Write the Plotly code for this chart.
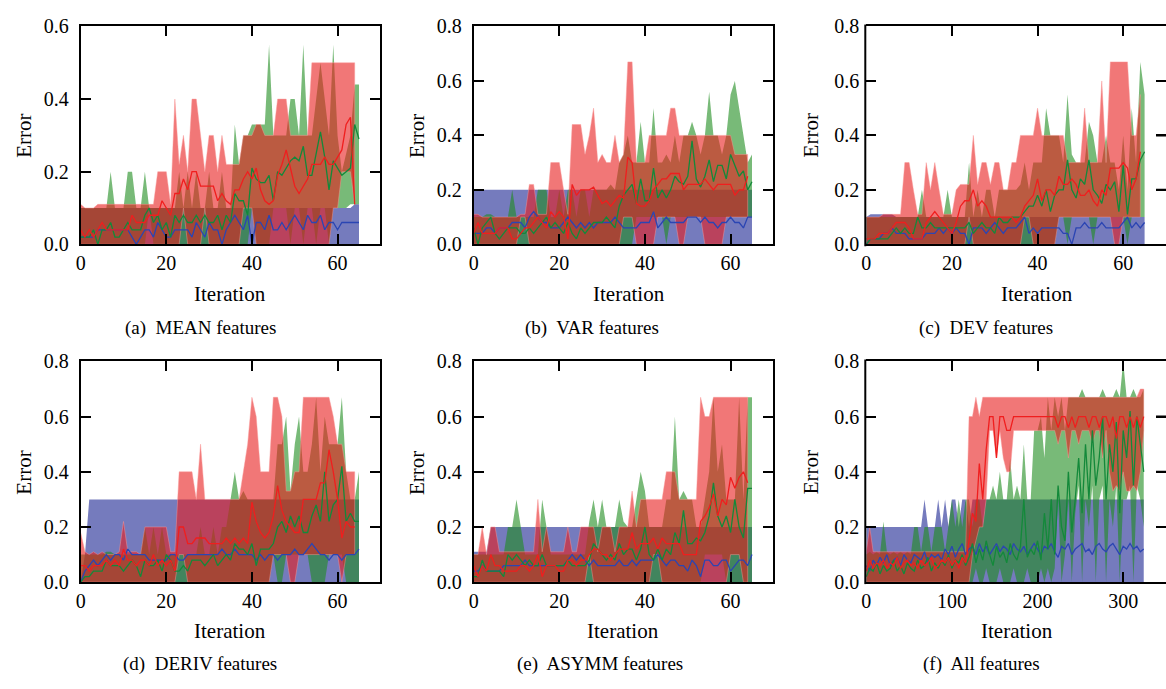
import plotly.graph_objects as go

FONT = "Liberation Serif, Times New Roman, serif"

# ---------------------------------------------------------------------------
# Error curves per feature set: mean line plus lower/upper envelope.
# Panels (a)-(e): one value per iteration; panel (f): one value every 4 iterations.
# ---------------------------------------------------------------------------

# (a) MEAN features
a_blue_mean = [0.02,0.02,0.02,0.02,0.04,0.04,0.04,0.04,0.04,0.04,
               0.04,0.04,0.02,0.0,0.02,0.04,0.04,0.02,0.06,0.04,
               0.02,0.02,0.04,0.04,0.04,0.04,0.02,0.06,0.04,0.02,
               0.06,0.04,0.04,0.0,0.04,0.06,0.08,0.06,0.04,0.08,
               0.0,0.06,0.06,0.04,0.08,0.04,0.04,0.06,0.04,0.06,
               0.08,0.06,0.04,0.08,0.06,0.06,0.08,0.04,0.06,0.06,
               0.04,0.06,0.06,0.06,0.06,0.06]
a_blue_lo = [0,0,0,0,0,0,0,0,0,0, 0,0,0,0,0,0,0,0,0,0, 0,0,0,0,0,0,0,0,0,0,
             0,0,0,0,0,0,0,0,0,0, 0,0,0,0,0,0,0,0,0,0, 0,0,0,0,0,0,0,0,0,0,
             0,0,0,0,0,0]
a_blue_hi = [0.1,0.1,0.1,0.1,0.1,0.1,0.1,0.1,0.1,0.1, 0.1,0.1,0.1,0.1,0.1,0.1,0.1,0.1,0.1,0.1,
             0.1,0.1,0.1,0.1,0.1,0.1,0.1,0.1,0.1,0.1, 0.1,0.1,0.1,0.1,0.1,0.1,0.1,0.1,0.1,0.1,
             0.1,0.1,0.1,0.1,0.1,0.1,0.1,0.1,0.1,0.1, 0.1,0.1,0.1,0.1,0.1,0.1,0.1,0.1,0.1,0.1,
             0.1,0.1,0.1,0.1,0.11,0.11]
a_green_mean = [0.02,0.02,0.02,0.04,0.0,0.04,0.04,0.06,0.02,0.02,
                0.04,0.06,0.04,0.04,0.04,0.08,0.1,0.06,0.08,0.04,
                0.06,0.02,0.08,0.06,0.08,0.06,0.06,0.08,0.06,0.08,
                0.06,0.06,0.08,0.04,0.08,0.06,0.14,0.12,0.12,0.08,
                0.21,0.18,0.17,0.17,0.19,0.12,0.2,0.19,0.21,0.23,
                0.24,0.23,0.27,0.19,0.19,0.25,0.31,0.24,0.15,0.23,
                0.21,0.19,0.2,0.21,0.33,0.29]
a_green_lo = [0,0,0,0,0,0,0,0,0,0, 0,0,0,0,0,0,0.1,0,0,0, 0,0,0,0,0,0,0,0,0,0,
              0,0,0,0,0,0,0,0,0,0, 0.1,0,0,0,0,0.1,0.1,0.1,0.1,0,
              0.1,0.1,0,0.1,0.1,0,0.1,0.1,0,0.1, 0.1,0.1,0.1,0.11,0.11,0.11]
a_green_hi = [0.1,0.1,0.1,0.1,0.1,0.1,0.1,0.2,0.1,0.1,
              0.1,0.2,0.2,0.1,0.1,0.2,0.1,0.1,0.1,0.1,
              0.1,0.1,0.1,0.2,0.1,0.2,0.1,0.2,0.1,0.1,
              0.2,0.1,0.1,0.2,0.1,0.1,0.33,0.22,0.3,0.3,
              0.33,0.33,0.33,0.33,0.55,0.3,0.3,0.3,0.3,0.4,
              0.4,0.3,0.55,0.3,0.3,0.4,0.5,0.4,0.3,0.55,
              0.3,0.2,0.25,0.3,0.44,0.44]
a_red_mean = [0.04,0.02,0.04,0.02,0.04,0.06,0.04,0.04,0.04,0.04,
              0.04,0.04,0.08,0.06,0.06,0.06,0.08,0.08,0.08,0.12,
              0.1,0.08,0.14,0.14,0.18,0.15,0.2,0.2,0.16,0.16,
              0.16,0.16,0.12,0.14,0.12,0.11,0.15,0.15,0.18,0.2,
              0.18,0.21,0.15,0.12,0.11,0.12,0.19,0.22,0.26,0.21,
              0.16,0.14,0.16,0.18,0.22,0.22,0.22,0.24,0.22,0.22,
              0.24,0.26,0.33,0.35,0.11]
a_red_lo = [0,0,0,0,0,0,0,0,0,0, 0,0,0,0,0,0,0,0,0,0, 0,0,0,0,0.1,0,0,0,0,0.1,
            0,0,0,0,0,0,0,0,0.1,0.1, 0.1,0,0,0,0,0,0,0,0,0, 0,0,0,0,0,0,0,0,0,0.1,
            0.1,0.2,0.2,0.2,0.11]
a_red_hi = [0.11,0.1,0.1,0.1,0.11,0.11,0.11,0.11,0.11,0.11,
            0.11,0.11,0.11,0.11,0.11,0.11,0.11,0.11,0.2,0.2,
            0.2,0.11,0.4,0.22,0.3,0.2,0.4,0.4,0.3,0.2,
            0.3,0.3,0.2,0.3,0.22,0.22,0.22,0.22,0.3,0.3,
            0.3,0.33,0.33,0.3,0.3,0.3,0.4,0.4,0.4,0.3,
            0.3,0.3,0.3,0.3,0.5,0.5,0.5,0.5,0.5,0.5,
            0.5,0.5,0.5,0.5,0.5]

# (b) VAR features
b_blue_mean = [0.04,0.04,0.04,0.06,0.06,0.04,0.06,0.06,0.06,0.08,
               0.08,0.08,0.06,0.1,0.12,0.1,0.08,0.08,0.06,0.06,
               0.06,0.08,0.1,0.08,0.06,0.08,0.06,0.08,0.06,0.08,
               0.08,0.08,0.08,0.1,0.08,0.06,0.06,0.06,0.06,0.08,
               0.08,0.08,0.12,0.06,0.08,0.1,0.08,0.08,0.08,0.08,
               0.1,0.1,0.1,0.08,0.1,0.08,0.08,0.06,0.08,0.08,
               0.1,0.08,0.08,0.06,0.1,0.1]
b_blue_lo = [0,0,0,0,0,0,0,0,0,0, 0,0,0,0,0,0,0,0,0,0, 0,0,0,0,0,0,0,0,0,0,
             0,0,0,0,0,0,0,0,0,0, 0,0,0,0,0,0,0,0,0,0, 0,0,0,0,0,0,0,0,0,0,
             0,0,0,0,0,0]
b_blue_hi = [0.2,0.2,0.2,0.2,0.2,0.2,0.2,0.2,0.2,0.2, 0.2,0.2,0.2,0.2,0.2,0.2,0.2,0.2,0.2,0.2,
             0.2,0.2,0.2,0.2,0.2,0.2,0.2,0.2,0.2,0.2, 0.2,0.2,0.2,0.2,0.2,0.2,0.2,0.2,0.2,0.2,
             0.2,0.2,0.2,0.2,0.2,0.2,0.2,0.2,0.2,0.2, 0.2,0.2,0.2,0.2,0.2,0.2,0.2,0.2,0.2,0.2,
             0.2,0.2,0.2,0.2,0.2,0.2]
b_green_mean = [0.06,0.0,0.06,0.08,0.1,0.04,0.02,0.04,0.06,0.06,
                0.06,0.04,0.04,0.06,0.04,0.06,0.08,0.1,0.06,0.08,
                0.06,0.04,0.08,0.04,0.02,0.06,0.04,0.06,0.08,0.08,
                0.08,0.1,0.08,0.06,0.14,0.18,0.2,0.22,0.15,0.24,
                0.16,0.16,0.28,0.17,0.2,0.17,0.2,0.25,0.23,0.22,
                0.25,0.38,0.24,0.21,0.25,0.31,0.23,0.29,0.29,0.24,
                0.33,0.29,0.25,0.27,0.2,0.23]
b_green_lo = [0,0,0,0,0,0,0,0,0,0, 0,0,0,0,0,0,0,0,0,0, 0,0,0,0,0,0,0,0,0,0,
              0,0,0,0,0,0,0,0,0.1,0.1, 0.1,0.1,0.1,0.1,0.1,0,0.1,0.1,0.1,0.1,
              0.1,0.1,0.1,0.1,0.1,0.1,0.1,0.1,0.1,0.1, 0.1,0.1,0.1,0.1,0.1,0.1]
b_green_hi = [0.1,0.1,0.1,0.11,0.11,0.1,0.1,0.1,0.1,0.2,
              0.1,0.1,0.1,0.1,0.1,0.2,0.2,0.2,0.1,0.1,
              0.2,0.1,0.2,0.2,0.1,0.2,0.2,0.1,0.2,0.2,
              0.2,0.2,0.22,0.2,0.3,0.33,0.4,0.3,0.3,0.45,
              0.3,0.3,0.5,0.3,0.3,0.33,0.3,0.4,0.3,0.4,
              0.4,0.45,0.4,0.33,0.4,0.56,0.4,0.4,0.33,0.4,
              0.55,0.6,0.5,0.4,0.3,0.33]
b_red_mean = [0.04,0.08,0.04,0.04,0.04,0.04,0.06,0.06,0.06,0.02,
              0.02,0.04,0.06,0.06,0.08,0.1,0.08,0.06,0.12,0.1,
              0.12,0.1,0.02,0.22,0.18,0.2,0.2,0.2,0.21,0.18,
              0.15,0.16,0.14,0.16,0.18,0.17,0.32,0.3,0.15,0.14,
              0.14,0.16,0.2,0.22,0.24,0.24,0.26,0.26,0.26,0.2,
              0.22,0.22,0.22,0.22,0.24,0.22,0.2,0.22,0.22,0.22,
              0.22,0.18,0.2,0.2,0.25]
b_red_lo = [0,0,0,0,0,0,0,0,0,0, 0,0.1,0.1,0,0,0,0,0,0,0, 0,0,0,0,0,0,0,0,0,0,
            0,0,0,0,0,0.1,0.1,0.1,0,0, 0,0,0,0.1,0.1,0.1,0.1,0.1,0,0,
            0.1,0.1,0.1,0.1,0,0,0,0,0,0.1, 0.1,0.1,0.1,0.1,0.1]
b_red_hi = [0.11,0.11,0.1,0.1,0.1,0.1,0.1,0.1,0.1,0.1,
            0.1,0.11,0.11,0.22,0.22,0.11,0.11,0.11,0.3,0.3,
            0.3,0.2,0.11,0.44,0.44,0.44,0.33,0.4,0.5,0.3,
            0.33,0.3,0.3,0.4,0.3,0.33,0.67,0.67,0.3,0.3,
            0.3,0.4,0.4,0.4,0.4,0.4,0.5,0.5,0.4,0.4,
            0.4,0.4,0.4,0.4,0.4,0.4,0.4,0.4,0.4,0.4,
            0.4,0.33,0.33,0.33,0.33]

# (c) DEV features
c_blue_mean = [0.0,0.02,0.02,0.02,0.04,0.04,0.06,0.04,0.04,0.04,
               0.02,0.02,0.02,0.02,0.04,0.04,0.04,0.06,0.04,0.06,
               0.04,0.06,0.04,0.04,0.0,0.06,0.06,0.06,0.04,0.06,
               0.08,0.06,0.04,0.06,0.06,0.06,0.08,0.1,0.04,0.06,
               0.04,0.06,0.06,0.06,0.06,0.06,0.04,0.04,0.0,0.06,
               0.06,0.08,0.06,0.06,0.06,0.08,0.06,0.06,0.06,0.06,
               0.08,0.1,0.06,0.08,0.06,0.08]
c_blue_lo = [0,0,0,0,0,0,0,0,0,0, 0,0,0,0,0,0,0,0,0,0, 0,0,0,0,0,0,0,0,0,0,
             0,0,0,0,0,0,0,0,0,0, 0,0,0,0,0,0,0,0,0,0, 0,0,0,0,0,0,0,0,0,0,
             0,0,0,0,0,0]
c_blue_hi = [0.1,0.11,0.11,0.11,0.11,0.11,0.11,0.1,0.1,0.1, 0.1,0.1,0.1,0.1,0.1,0.1,0.1,0.1,0.1,0.1,
             0.1,0.1,0.1,0.1,0.1,0.1,0.1,0.1,0.1,0.1, 0.1,0.1,0.1,0.1,0.1,0.1,0.1,0.1,0.1,0.1,
             0.1,0.1,0.1,0.1,0.1,0.1,0.1,0.1,0.1,0.1, 0.1,0.1,0.1,0.1,0.1,0.1,0.1,0.1,0.1,0.1,
             0.1,0.1,0.1,0.1,0.1,0.1]
c_green_mean = [0.0,0.02,0.02,0.02,0.02,0.02,0.04,0.06,0.04,0.06,
                0.04,0.04,0.1,0.06,0.06,0.08,0.06,0.06,0.06,0.06,
                0.06,0.06,0.06,0.06,0.08,0.04,0.06,0.08,0.06,0.06,
                0.04,0.1,0.08,0.08,0.1,0.1,0.1,0.12,0.14,0.14,
                0.18,0.14,0.2,0.12,0.18,0.2,0.2,0.31,0.2,0.17,
                0.24,0.22,0.31,0.2,0.18,0.15,0.22,0.2,0.23,0.12,
                0.29,0.11,0.24,0.24,0.31,0.34]
c_green_lo = [0,0,0,0,0,0,0,0,0,0, 0,0,0,0,0,0,0,0,0,0, 0,0,0,0,0,0,0,0,0,0,
              0,0,0,0,0,0,0,0,0,0, 0,0,0,0,0,0.1,0.1,0,0.1,0.1,
              0.1,0.1,0.1,0,0.1,0.1,0.1,0.1,0.1,0.1, 0.1,0,0.1,0.1,0.1,0.1]
c_green_hi = [0.1,0.1,0.1,0.1,0.1,0.1,0.1,0.1,0.1,0.1,
              0.1,0.1,0.1,0.2,0.1,0.1,0.1,0.1,0.1,0.2,
              0.1,0.1,0.1,0.1,0.3,0.1,0.2,0.1,0.2,0.2,
              0.1,0.2,0.2,0.2,0.2,0.2,0.22,0.3,0.2,0.3,
              0.3,0.3,0.5,0.4,0.4,0.4,0.3,0.55,0.33,0.3,
              0.3,0.3,0.45,0.4,0.3,0.3,0.4,0.3,0.3,0.2,
              0.4,0.2,0.5,0.3,0.67,0.55]
c_red_mean = [0.02,0.02,0.02,0.04,0.04,0.04,0.06,0.08,0.08,0.08,
              0.06,0.02,0.02,0.02,0.08,0.1,0.12,0.1,0.08,0.06,
              0.04,0.08,0.14,0.16,0.16,0.2,0.14,0.16,0.14,0.1,
              0.1,0.1,0.1,0.1,0.1,0.08,0.1,0.14,0.16,0.18,
              0.24,0.16,0.2,0.2,0.18,0.25,0.22,0.22,0.24,0.22,
              0.18,0.18,0.2,0.16,0.14,0.2,0.18,0.28,0.28,0.28,
              0.3,0.28,0.2,0.24,0.34]
c_red_lo = [0,0,0,0,0,0,0,0,0,0, 0,0,0,0,0,0,0,0,0,0, 0,0,0,0,0.1,0,0,0,0,0,
            0,0,0,0,0,0,0,0.1,0.1,0, 0,0,0,0,0,0.1,0.1,0.1,0.1,0.1,
            0.1,0.1,0.1,0.1,0.1,0.1,0.1,0.1,0,0, 0.1,0.1,0.1,0.1,0.1]
c_red_hi = [0.1,0.1,0.1,0.1,0.11,0.11,0.11,0.11,0.11,0.3,
            0.3,0.2,0.11,0.11,0.3,0.2,0.3,0.2,0.11,0.11,
            0.11,0.2,0.22,0.22,0.22,0.4,0.22,0.3,0.3,0.22,
            0.3,0.3,0.2,0.2,0.3,0.3,0.4,0.4,0.4,0.4,
            0.5,0.4,0.4,0.4,0.4,0.4,0.4,0.3,0.3,0.3,
            0.3,0.5,0.3,0.3,0.3,0.6,0.3,0.67,0.67,0.67,
            0.67,0.67,0.4,0.4,0.55]

# (d) DERIV features
d_blue_mean = [0.0,0.04,0.06,0.08,0.06,0.08,0.1,0.08,0.1,0.1,
               0.08,0.12,0.1,0.1,0.1,0.1,0.08,0.08,0.08,0.08,
               0.08,0.1,0.1,0.08,0.08,0.1,0.1,0.1,0.1,0.1,
               0.1,0.1,0.1,0.12,0.1,0.1,0.12,0.1,0.1,0.1,
               0.1,0.08,0.1,0.08,0.1,0.1,0.08,0.1,0.1,0.1,
               0.12,0.1,0.1,0.12,0.14,0.12,0.1,0.1,0.08,0.1,
               0.1,0.08,0.1,0.1,0.1,0.12]
d_blue_lo = [0,0,0,0,0,0,0,0,0,0, 0,0,0,0,0,0,0,0,0,0, 0,0,0,0,0,0,0,0,0,0,
             0,0,0,0,0,0,0,0,0,0, 0,0,0,0,0,0,0,0,0,0, 0,0,0,0,0,0,0,0,0,0,
             0,0,0,0,0,0]
d_blue_hi = [0.0,0.1,0.3,0.3,0.3,0.3,0.3,0.3,0.3,0.3, 0.3,0.3,0.3,0.3,0.3,0.3,0.3,0.3,0.3,0.3,
             0.3,0.3,0.3,0.3,0.3,0.3,0.3,0.3,0.3,0.3, 0.3,0.3,0.3,0.3,0.3,0.3,0.3,0.3,0.3,0.3,
             0.3,0.3,0.3,0.3,0.3,0.3,0.3,0.3,0.3,0.3, 0.3,0.3,0.3,0.3,0.3,0.3,0.3,0.3,0.3,0.3,
             0.3,0.3,0.3,0.3,0.3,0.3]
d_green_mean = [0.0,0.02,0.02,0.04,0.04,0.04,0.08,0.06,0.06,0.06,
                0.04,0.06,0.08,0.06,0.02,0.08,0.06,0.06,0.08,0.04,
                0.1,0.08,0.04,0.04,0.06,0.04,0.08,0.08,0.08,0.06,
                0.08,0.1,0.06,0.08,0.1,0.08,0.14,0.12,0.12,0.1,
                0.14,0.06,0.12,0.12,0.12,0.14,0.2,0.22,0.18,0.24,
                0.2,0.24,0.18,0.18,0.24,0.28,0.22,0.4,0.22,0.28,
                0.3,0.42,0.22,0.25,0.22,0.22]
d_green_lo = [0,0,0,0,0,0,0,0,0,0, 0,0,0,0,0,0,0,0,0,0, 0,0,0,0,0,0,0,0,0,0,
              0,0,0,0,0,0,0,0,0,0, 0,0,0,0,0,0.1,0,0,0.1,0.1,
              0.1,0.1,0.1,0.1,0,0,0,0,0.1,0.1, 0.1,0.1,0,0,0,0]
d_green_hi = [0.1,0.1,0.1,0.1,0.1,0.1,0.11,0.11,0.1,0.1,
              0.1,0.1,0.1,0.1,0.1,0.2,0.1,0.2,0.1,0.2,
              0.1,0.1,0.1,0.1,0.1,0.1,0.1,0.1,0.2,0.1,
              0.1,0.2,0.1,0.2,0.2,0.3,0.4,0.3,0.33,0.3,
              0.3,0.3,0.3,0.3,0.3,0.3,0.5,0.5,0.6,0.33,
              0.5,0.6,0.4,0.4,0.5,0.67,0.4,0.6,0.5,0.5,
              0.5,0.67,0.4,0.3,0.3,0.4]
d_red_mean = [0.06,0.06,0.04,0.06,0.06,0.06,0.08,0.06,0.08,0.06,
              0.12,0.08,0.08,0.06,0.08,0.08,0.06,0.1,0.06,0.08,
              0.06,0.08,0.04,0.2,0.2,0.14,0.14,0.16,0.16,0.16,
              0.14,0.14,0.14,0.14,0.16,0.14,0.16,0.14,0.16,0.14,
              0.29,0.22,0.18,0.16,0.18,0.24,0.35,0.26,0.22,0.2,
              0.18,0.18,0.3,0.3,0.3,0.3,0.36,0.36,0.48,0.4,
              0.3,0.16,0.22,0.2,0.2]
d_red_lo = [0,0,0,0,0,0,0,0,0,0, 0,0,0,0,0,0,0,0,0,0, 0,0,0,0.1,0.1,0,0,0,0,0,
            0,0,0,0,0,0,0,0,0,0, 0,0,0,0,0,0.1,0.1,0.1,0.1,0,
            0,0.1,0.1,0.1,0.1,0.1,0.1,0.1,0.1,0.1, 0.1,0,0.1,0.1,0.1]
d_red_hi = [0.18,0.11,0.1,0.11,0.1,0.11,0.1,0.1,0.1,0.11,
            0.22,0.11,0.11,0.11,0.1,0.2,0.2,0.2,0.2,0.2,
            0.2,0.11,0.11,0.4,0.4,0.4,0.4,0.3,0.5,0.3,
            0.3,0.3,0.3,0.3,0.3,0.3,0.3,0.3,0.4,0.5,
            0.67,0.6,0.4,0.4,0.4,0.67,0.67,0.6,0.33,0.33,
            0.4,0.4,0.67,0.67,0.67,0.67,0.67,0.67,0.67,0.6,
            0.5,0.5,0.4,0.4,0.4]

# (e) ASYMM features
e_blue_mean = [0.04,0.04,0.06,0.04,0.04,0.04,0.04,0.06,0.06,0.06,
               0.06,0.06,0.08,0.06,0.06,0.06,0.06,0.06,0.06,0.06,
               0.06,0.06,0.08,0.1,0.08,0.1,0.08,0.06,0.08,0.06,
               0.06,0.06,0.06,0.06,0.08,0.06,0.06,0.08,0.06,0.08,
               0.08,0.08,0.08,0.1,0.08,0.06,0.08,0.08,0.06,0.06,
               0.04,0.08,0.06,0.02,0.08,0.08,0.06,0.06,0.08,0.08,
               0.04,0.06,0.08,0.08,0.06,0.1]
e_blue_lo = [0,0,0,0,0,0,0,0,0,0, 0,0,0,0,0,0,0,0,0,0, 0,0,0,0,0,0,0,0,0,0,
             0,0,0,0,0,0,0,0,0,0, 0,0,0,0,0,0,0,0,0,0, 0,0,0,0,0,0,0,0,0,0,
             0,0,0,0,0,0]
e_blue_hi = [0.11,0.11,0.11,0.11,0.2,0.2,0.2,0.2,0.2,0.2, 0.2,0.2,0.2,0.2,0.2,0.2,0.2,0.2,0.2,0.2,
             0.2,0.2,0.2,0.2,0.2,0.2,0.2,0.2,0.2,0.2, 0.2,0.2,0.2,0.2,0.2,0.2,0.2,0.2,0.2,0.2,
             0.2,0.2,0.2,0.2,0.2,0.2,0.2,0.2,0.2,0.2, 0.2,0.2,0.2,0.2,0.2,0.2,0.2,0.2,0.2,0.2,
             0.2,0.2,0.2,0.2,0.2,0.2]
e_green_mean = [0.02,0.02,0.08,0.04,0.04,0.04,0.04,0.02,0.1,0.08,
                0.1,0.08,0.06,0.08,0.06,0.06,0.1,0.06,0.06,0.06,
                0.06,0.06,0.08,0.06,0.06,0.06,0.06,0.08,0.14,0.12,
                0.1,0.08,0.1,0.08,0.14,0.1,0.12,0.12,0.08,0.12,
                0.2,0.1,0.08,0.12,0.08,0.12,0.1,0.18,0.14,0.26,
                0.14,0.14,0.16,0.15,0.18,0.24,0.36,0.24,0.2,0.24,
                0.18,0.3,0.2,0.16,0.34,0.34]
e_green_lo = [0,0,0,0,0,0,0,0,0,0, 0,0,0,0,0,0,0,0,0,0, 0,0,0,0,0,0,0,0,0,0,
              0,0,0,0,0,0,0,0,0,0, 0,0,0,0,0,0,0,0,0,0, 0,0,0,0,0.1,0.1,0.1,0.1,0.1,0,
              0,0,0,0,0,0]
e_green_hi = [0.1,0.1,0.1,0.1,0.1,0.1,0.1,0.1,0.2,0.2,
              0.3,0.2,0.1,0.1,0.1,0.1,0.3,0.2,0.1,0.1,
              0.1,0.1,0.1,0.1,0.1,0.1,0.1,0.22,0.3,0.2,
              0.3,0.2,0.2,0.2,0.3,0.22,0.2,0.2,0.3,0.4,
              0.33,0.2,0.2,0.2,0.2,0.3,0.3,0.6,0.3,0.33,
              0.3,0.3,0.2,0.2,0.3,0.4,0.67,0.4,0.5,0.3,
              0.3,0.3,0.67,0.3,0.67,0.67]
e_red_mean = [0.06,0.02,0.06,0.04,0.1,0.06,0.06,0.04,0.04,0.04,
              0.04,0.06,0.06,0.04,0.06,0.1,0.02,0.06,0.06,0.06,
              0.04,0.04,0.08,0.08,0.06,0.08,0.08,0.1,0.12,0.12,
              0.1,0.1,0.08,0.1,0.12,0.12,0.12,0.18,0.12,0.14,
              0.14,0.14,0.16,0.12,0.16,0.14,0.14,0.14,0.14,0.1,
              0.1,0.1,0.1,0.22,0.24,0.27,0.32,0.24,0.3,0.28,
              0.38,0.34,0.38,0.4,0.36]
e_red_lo = [0,0,0,0,0,0,0,0,0,0, 0,0,0,0,0,0,0,0,0,0, 0,0,0,0,0,0,0,0.1,0,0,
            0,0,0,0,0,0,0,0,0,0, 0,0,0.1,0.1,0,0,0,0,0,0,
            0,0,0,0,0,0,0,0,0,0, 0.1,0.1,0.1,0,0]
e_red_hi = [0.1,0.1,0.2,0.1,0.2,0.2,0.11,0.11,0.11,0.11,
            0.11,0.11,0.11,0.11,0.11,0.3,0.11,0.2,0.11,0.11,
            0.11,0.11,0.2,0.11,0.11,0.2,0.2,0.2,0.2,0.11,
            0.2,0.2,0.2,0.11,0.2,0.2,0.2,0.33,0.2,0.3,
            0.3,0.3,0.3,0.3,0.3,0.4,0.4,0.4,0.3,0.3,
            0.3,0.3,0.3,0.67,0.6,0.6,0.67,0.67,0.67,0.67,
            0.67,0.67,0.67,0.67,0.67]

# (f) All features, sampled every 4 iterations
f_step = 4
f_blue_mean = [0.06,0.04,0.08,0.06,0.09,0.07,0.1,0.06,0.08,0.09,
               0.06,0.1,0.08,0.07,0.1,0.09,0.08,0.11,0.07,0.1,
               0.09,0.1,0.08,0.12,0.1,0.13,0.09,0.12,0.14,0.1,
               0.12,0.13,0.1,0.14,0.11,0.13,0.1,0.12,0.14,0.11,
               0.13,0.12,0.1,0.14,0.12,0.11,0.13,0.1,0.12,0.14,
               0.12,0.1,0.13,0.12,0.14,0.11,0.09,0.13,0.12,0.14,
               0.1,0.12,0.13,0.14,0.11,0.12,0.1,0.13,0.14,0.12,
               0.11,0.13,0.14,0.12,0.1,0.13,0.12,0.14,0.12,0.13,
               0.11,0.12]
f_blue_lo = [0,0,0,0,0,0,0,0,0,0, 0,0,0,0,0,0,0,0,0,0, 0,0,0,0,0,0,0,0,0,0,
             0,0,0,0,0,0,0,0,0,0, 0,0,0,0,0,0,0,0,0,0, 0,0,0,0,0,0,0,0,0,0,
             0,0,0,0,0,0,0,0,0,0, 0,0,0,0,0,0,0,0,0,0, 0,0]
f_blue_hi = [0.2,0.2,0.2,0.2,0.2,0.2,0.2,0.2,0.2,0.2,
             0.2,0.2,0.2,0.2,0.2,0.2,0.2,0.3,0.2,0.2,
             0.2,0.3,0.2,0.3,0.2,0.3,0.3,0.2,0.3,0.3,
             0.2,0.3,0.3,0.3,0.3,0.3,0.3,0.3,0.3,0.3,
             0.3,0.3,0.3,0.3,0.3,0.3,0.3,0.3,0.3,0.3,
             0.3,0.3,0.3,0.3,0.3,0.3,0.3,0.3,0.3,0.3,
             0.3,0.3,0.3,0.3,0.3,0.3,0.3,0.3,0.3,0.3,
             0.3,0.3,0.3,0.3,0.3,0.3,0.3,0.3,0.3,0.3,
             0.3,0.3]
f_green_mean = [0.02,0.05,0.04,0.07,0.03,0.06,0.04,0.05,0.08,0.04,
                0.06,0.03,0.07,0.05,0.04,0.08,0.05,0.06,0.09,0.04,
                0.07,0.05,0.08,0.06,0.1,0.05,0.08,0.07,0.1,0.06,
                0.09,0.14,0.07,0.12,0.08,0.15,0.1,0.06,0.13,0.09,
                0.11,0.07,0.14,0.1,0.08,0.13,0.3,0.09,0.12,0.1,
                0.15,0.08,0.25,0.12,0.3,0.1,0.35,0.2,0.15,0.4,
                0.18,0.3,0.45,0.25,0.5,0.3,0.55,0.35,0.45,0.6,
                0.3,0.5,0.4,0.58,0.25,0.55,0.45,0.62,0.35,0.6,
                0.5,0.4]
f_green_lo = [0,0,0,0,0,0,0,0,0,0, 0,0,0,0,0,0,0,0,0,0, 0,0,0,0,0,0,0,0,0,0,
              0,0,0.05,0,0,0.05,0,0,0,0.05,
              0,0,0,0.05,0,0,0,0.05,0,0,
              0,0.05,0,0.05,0,0.05,0.3,0,0.1,0.3,
              0,0.25,0.35,0,0.3,0.2,0.35,0,0.3,0.35,
              0,0.3,0.2,0.35,0,0.3,0.3,0.35,0,0.35,
              0.3,0.2]
f_green_hi = [0.1,0.11,0.1,0.11,0.1,0.22,0.11,0.1,0.11,0.1,
              0.11,0.1,0.11,0.1,0.2,0.2,0.11,0.2,0.2,0.11,
              0.2,0.2,0.2,0.11,0.2,0.3,0.2,0.3,0.2,0.3,
              0.3,0.2,0.3,0.3,0.2,0.3,0.3,0.35,0.3,0.4,
              0.3,0.3,0.45,0.3,0.35,0.3,0.5,0.3,0.3,0.55,
              0.55,0.6,0.45,0.67,0.55,0.67,0.6,0.67,0.55,0.67,
              0.67,0.67,0.67,0.7,0.67,0.67,0.67,0.67,0.67,0.7,
              0.67,0.67,0.67,0.7,0.67,0.8,0.67,0.67,0.7,0.67,
              0.67,0.7]
f_red_mean = [0.04,0.08,0.05,0.07,0.06,0.08,0.05,0.07,0.06,0.09,
              0.05,0.07,0.08,0.06,0.07,0.05,0.08,0.06,0.07,0.09,
              0.05,0.06,0.08,0.07,0.09,0.06,0.08,0.05,0.09,0.07,
              0.15,0.25,0.22,0.43,0.3,0.48,0.6,0.6,0.45,0.6,
              0.6,0.55,0.55,0.6,0.6,0.6,0.6,0.6,0.6,0.6,
              0.6,0.6,0.6,0.6,0.6,0.6,0.56,0.6,0.6,0.56,
              0.6,0.56,0.6,0.6,0.6,0.56,0.6,0.6,0.56,0.6,
              0.6,0.56,0.6,0.52,0.6,0.6,0.56,0.6,0.56,0.6,
              0.56,0.6]
f_red_lo = [0,0,0,0,0,0,0,0,0,0, 0,0,0,0,0,0,0,0,0,0, 0,0,0,0,0,0,0,0,0,0,
            0,0.1,0.15,0.2,0.2,0.3,0.55,0.55,0.45,0.55,
            0.45,0.4,0.4,0.55,0.55,0.55,0.55,0.55,0.55,0.55,
            0.55,0.55,0.55,0.55,0.55,0.55,0.5,0.55,0.55,0.45,
            0.55,0.55,0.5,0.55,0.55,0.55,0.5,0.55,0.55,0.45,
            0.55,0.4,0.33,0.35,0.33,0.4,0.33,0.33,0.35,0.33,
            0.4,0.55]
f_red_hi = [0.11,0.2,0.11,0.11,0.11,0.11,0.11,0.11,0.11,0.11,
            0.11,0.11,0.11,0.11,0.11,0.11,0.11,0.11,0.11,0.11,
            0.11,0.11,0.11,0.11,0.11,0.11,0.11,0.11,0.11,0.11,
            0.6,0.6,0.67,0.6,0.67,0.67,0.67,0.67,0.67,0.67,
            0.67,0.67,0.67,0.67,0.67,0.67,0.67,0.67,0.67,0.67,
            0.67,0.67,0.67,0.67,0.67,0.67,0.67,0.67,0.67,0.67,
            0.67,0.67,0.67,0.67,0.67,0.67,0.67,0.67,0.67,0.67,
            0.67,0.67,0.67,0.67,0.67,0.67,0.67,0.67,0.67,0.67,
            0.7,0.7]

# Panel captions and axis ticks
captions = ["(a)\u00a0 MEAN features", "(b)\u00a0 VAR features", "(c)\u00a0 DEV features",
            "(d)\u00a0 DERIV features", "(e)\u00a0 ASYMM features", "(f)\u00a0 All features"]
x_ticks_short = [0, 20, 40, 60]
x_ticks_all = [0, 100, 200, 300]
y_ticks_mean = [0.0, 0.2, 0.4, 0.6]
y_ticks_other = [0.0, 0.2, 0.4, 0.6, 0.8]

# ---------------------------------------------------------------------------
# Styling
# ---------------------------------------------------------------------------
FILL = {"blue": "rgba(25,35,145,0.6)",
        "green": "rgba(30,140,30,0.6)",
        "red": "rgba(232,28,28,0.6)"}
EDGE = {"blue": "rgba(25,35,145,0)",
        "green": "rgba(30,140,30,0)",
        "red": "rgba(250,150,150,0.45)"}
LINE = {"blue": "#2b45b3",
        "green": "#13893a",
        "red": "#f01e1e"}

W, H = 1166, 689
col_px = [(76, 377), (470.7, 771.7), (865, 1166)]
row_px = [(16, 241), (362, 590)]
TICK_LEN = 10

panels = [
    dict(step=1, xr=[0, 70], xt=x_ticks_short, yr=[0, 0.6], yt=y_ticks_mean,
         series={"blue": (a_blue_lo, a_blue_mean, a_blue_hi),
                 "green": (a_green_lo, a_green_mean, a_green_hi),
                 "red": (a_red_lo, a_red_mean, a_red_hi)}),
    dict(step=1, xr=[0, 70], xt=x_ticks_short, yr=[0, 0.8], yt=y_ticks_other,
         series={"blue": (b_blue_lo, b_blue_mean, b_blue_hi),
                 "green": (b_green_lo, b_green_mean, b_green_hi),
                 "red": (b_red_lo, b_red_mean, b_red_hi)}),
    dict(step=1, xr=[0, 70], xt=x_ticks_short, yr=[0, 0.8], yt=y_ticks_other,
         series={"blue": (c_blue_lo, c_blue_mean, c_blue_hi),
                 "green": (c_green_lo, c_green_mean, c_green_hi),
                 "red": (c_red_lo, c_red_mean, c_red_hi)}),
    dict(step=1, xr=[0, 70], xt=x_ticks_short, yr=[0, 0.8], yt=y_ticks_other,
         series={"blue": (d_blue_lo, d_blue_mean, d_blue_hi),
                 "green": (d_green_lo, d_green_mean, d_green_hi),
                 "red": (d_red_lo, d_red_mean, d_red_hi)}),
    dict(step=1, xr=[0, 70], xt=x_ticks_short, yr=[0, 0.8], yt=y_ticks_other,
         series={"blue": (e_blue_lo, e_blue_mean, e_blue_hi),
                 "green": (e_green_lo, e_green_mean, e_green_hi),
                 "red": (e_red_lo, e_red_mean, e_red_hi)}),
    dict(step=f_step, xr=[0, 350], xt=x_ticks_all, yr=[0, 0.8], yt=y_ticks_other,
         series={"blue": (f_blue_lo, f_blue_mean, f_blue_hi),
                 "green": (f_green_lo, f_green_mean, f_green_hi),
                 "red": (f_red_lo, f_red_mean, f_red_hi)}),
]

# label positions (pixel centres)
error_x = [19, 414, 809]
error_y = [129, 477]
iter_x = [[226, 627, 1036], [226, 621, 1016]]
iter_y = [292, 640]
cap_x = [[196, 590, 985], [196, 598, 981]]
cap_y = [327, 675]

fig = go.Figure()
layout = dict(width=W, height=H, margin=dict(l=0, r=0, t=0, b=0),
              paper_bgcolor="white", plot_bgcolor="white", showlegend=False)
annotations = []
shapes = []

for k, p in enumerate(panels):
    r, c = divmod(k, 3)
    sfx = "" if k == 0 else str(k + 1)
    xa, ya = "x" + sfx, "y" + sfx
    step = p["step"]

    # envelopes first (blue, green, red), then mean lines on top
    for name in ["blue", "green", "red"]:
        lo, mean, hi = p["series"][name]
        xs_hi = [i * step for i in range(len(hi))]
        xs_lo = [i * step for i in range(len(lo))]
        fig.add_trace(go.Scatter(
            x=xs_hi + xs_lo[::-1], y=list(hi) + list(lo)[::-1],
            fill="toself", fillcolor=FILL[name], mode="lines",
            line=dict(width=1 if name == "red" else 0, color=EDGE[name]),
            hoverinfo="skip", xaxis=xa, yaxis=ya))
    for name in ["blue", "green", "red"]:
        lo, mean, hi = p["series"][name]
        xs = [i * step for i in range(len(mean))]
        fig.add_trace(go.Scatter(
            x=xs, y=mean, mode="lines",
            line=dict(color=LINE[name], width=1.3),
            xaxis=xa, yaxis=ya))

    x0, x1 = col_px[c]
    y0, y1 = row_px[r]
    common = dict(showline=True, linecolor="black", linewidth=2, mirror="ticks",
                  ticks="inside", ticklen=TICK_LEN, tickwidth=2, tickcolor="black",
                  showgrid=False, zeroline=False,
                  tickfont=dict(family=FONT, size=20, color="black"))
    layout["xaxis" + sfx] = dict(common, domain=[x0 / W, min(x1 / W, 1.0)],
                                 range=p["xr"], tickvals=p["xt"], anchor=ya)
    yax = dict(common, domain=[1 - y1 / H, 1 - y0 / H],
               range=p["yr"], tickvals=p["yt"], tickformat=".1f",
               anchor=xa, ticklabelstandoff=6)
    if c == 2:
        # right-hand column runs to the page edge: no right spine,
        # left spine and right-side ticks drawn as shapes
        yax["showline"] = False
        shapes.append(dict(type="line", xref="paper", yref="paper",
                           x0=(x0 - 1) / W, x1=(x0 - 1) / W,
                           y0=1 - (y1 + 2) / H, y1=1 - (y0 - 2) / H,
                           line=dict(color="black", width=2)))
        for tv in p["yt"][1:-1]:
            shapes.append(dict(type="line", xref=xa + " domain", yref=ya,
                               x0=1 - TICK_LEN / (x1 - x0), x1=1, y0=tv, y1=tv,
                               line=dict(color="black", width=2)))
    layout["yaxis" + sfx] = yax

    annotations.append(dict(text="Error", x=error_x[c] / W, y=1 - error_y[r] / H,
                            xref="paper", yref="paper", showarrow=False, textangle=-90,
                            font=dict(family=FONT, size=21, color="black"),
                            xanchor="center", yanchor="middle"))
    annotations.append(dict(text="Iteration", x=iter_x[r][c] / W, y=1 - iter_y[r] / H,
                            xref="paper", yref="paper", showarrow=False,
                            font=dict(family=FONT, size=21, color="black"),
                            xanchor="center", yanchor="middle"))
    annotations.append(dict(text=captions[k], x=cap_x[r][c] / W, y=1 - cap_y[r] / H,
                            xref="paper", yref="paper", showarrow=False,
                            font=dict(family=FONT, size=19, color="black"),
                            xanchor="center", yanchor="middle"))

layout["annotations"] = annotations
layout["shapes"] = shapes
fig.update_layout(**layout)
fig.write_html("out.html")
